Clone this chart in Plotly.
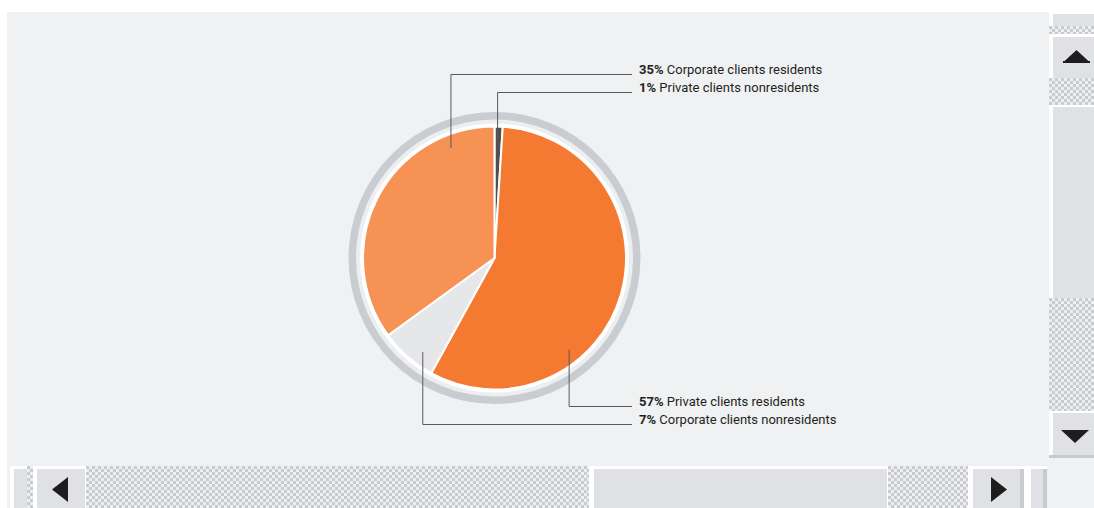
import base64
import math
import struct
import zlib

import plotly.graph_objects as go

# ---- data -------------------------------------------------------------
segments = [
    "Private clients nonresidents",
    "Private clients residents",
    "Corporate clients nonresidents",
    "Corporate clients residents",
]
shares = [1, 57, 7, 35]
slice_colors = ["#505052", "#f37a30", "#e6e7e9", "#f69254"]

# label placement: (segment index, row baseline y, anchor angle in degrees)
label_rows = [
    (3, 74, 338.4),
    (0, 92, 1.5),
    (1, 406, 140.9),
    (2, 424, 217.3),
]

# ---- geometry helpers (pixel -> paper) ---------------------------------
W, H = 1094, 508


def px(x):
    return x / W


def py(y):
    return 1 - y / H


def rect(x0, y0, x1, y1, color, layer="below"):
    return dict(type="rect", xref="paper", yref="paper",
                x0=px(x0), x1=px(x1), y0=py(y1), y1=py(y0),
                fillcolor=color, line=dict(width=0), layer=layer)


def poly(points, color):
    d = "M " + " L ".join(f"{px(x)},{py(y)}" for x, y in points) + " Z"
    return dict(type="path", xref="paper", yref="paper", path=d,
                fillcolor=color, line=dict(width=0), layer="below")


def circle(cx, cy, r, color):
    return dict(type="circle", xref="paper", yref="paper",
                x0=px(cx - r), x1=px(cx + r), y0=py(cy + r), y1=py(cy - r),
                fillcolor=color, line=dict(width=0), layer="below")


def checker_png(w, h, cell, dark, light):
    """Small checkerboard PNG as a data URI (scrollbar track texture)."""
    def rgb(c):
        c = c.lstrip("#")
        return bytes(int(c[i:i + 2], 16) for i in (0, 2, 4))
    d, l = rgb(dark), rgb(light)
    raw = bytearray()
    for y in range(h):
        raw.append(0)
        for x in range(w):
            raw += l if ((x // cell) + (y // cell)) % 2 else d
    def chunk(tag, data):
        c = struct.pack(">I", len(data)) + tag + data
        return c + struct.pack(">I", zlib.crc32(tag + data) & 0xFFFFFFFF)
    png = b"\x89PNG\r\n\x1a\n"
    png += chunk(b"IHDR", struct.pack(">IIBBBBB", w, h, 8, 2, 0, 0, 0))
    png += chunk(b"IDAT", zlib.compress(bytes(raw), 9))
    png += chunk(b"IEND", b"")
    return "data:image/png;base64," + base64.b64encode(png).decode()


def track(x0, y0, x1, y1):
    w, h = int(x1 - x0), int(y1 - y0)
    return dict(source=checker_png(w, h, 3, "#c9cbcf", "#eceef0"),
                xref="paper", yref="paper", x=px(x0), y=py(y0),
                sizex=w / W, sizey=h / H, sizing="stretch",
                xanchor="left", yanchor="top", layer="above")


PANEL = "#f0f1f3"
BTN = "#e0e1e4"
EDGE = "#c8cacd"
ARROW = "#1e1c1d"

shapes = []
images = []

# panel background
shapes.append(rect(7, 12, 1049, 508, PANEL))
shapes.append(rect(1049, 458, 1094, 508, PANEL))

# vertical scrollbar
shapes += [
    rect(1049, 12, 1094, 458, "#ffffff"),
    rect(1053, 14, 1094, 26, BTN),
    rect(1053, 37, 1094, 78, BTN),
    rect(1053, 107, 1094, 298, BTN),
    rect(1053, 413, 1094, 455, BTN),
    rect(1049, 455, 1094, 458, EDGE),
    poly([(1063, 62.5), (1090, 62.5), (1076.5, 50)], ARROW),
    rect(1063, 61, 1090, 63, ARROW),
    poly([(1061, 430), (1089, 430), (1075, 443)], ARROW),
]
images += [
    track(1049, 26, 1094, 34),
    track(1049, 78, 1094, 105),
    track(1049, 298, 1094, 411),
]

# horizontal scrollbar
shapes += [
    rect(10, 466, 1047, 508, "#ffffff"),
    rect(14, 469, 27, 508, BTN),
    rect(37, 469, 85, 508, BTN),
    rect(594, 469, 887, 508, BTN),
    rect(973, 469, 1020, 508, BTN),
    rect(1020, 469, 1024, 508, EDGE),
    rect(1031, 469, 1043, 508, BTN),
    rect(1043, 469, 1047, 508, EDGE),
    poly([(68, 477), (68, 502), (52, 489.5)], ARROW),
    poly([(991, 477), (991, 502), (1007, 489.5)], ARROW),
]
images += [
    track(27, 466, 33, 508),
    track(86, 466, 589, 508),
    track(888, 466, 968, 508),
]

# ring around the pie
CX, CY, R = 494.5, 258, 131.5
shapes += [
    circle(CX, CY, 146, "#c9ccd0"),
    circle(CX, CY, 138.5, "#eceef0"),
    circle(CX, CY, 134.5, "#ffffff"),
]

# leader lines and labels
LINE_END = 632
TEXT_X = 637
annotations = []
for idx, base_y, ang in label_rows:
    r = 0.9 * R
    ax = CX + r * math.sin(math.radians(ang))
    ay = CY - r * math.cos(math.radians(ang))
    ly = base_y + 0.5
    shapes.append(dict(
        type="path", xref="paper", yref="paper",
        path=f"M {px(ax)},{py(ay)} L {px(ax)},{py(ly)} L {px(LINE_END)},{py(ly)}",
        line=dict(color="#59595b", width=1), layer="above"))
    annotations.append(dict(
        xref="paper", yref="paper", x=px(TEXT_X), y=py(base_y - 4.5),
        xanchor="left", yanchor="middle", showarrow=False,
        text=f"<b>{shares[idx]}%</b> {segments[idx]}",
        font=dict(family="Roboto, sans-serif", size=13, color="#231f20")))

fig = go.Figure(go.Pie(
    labels=segments,
    values=shares,
    sort=False,
    direction="clockwise",
    rotation=0,
    marker=dict(colors=slice_colors, line=dict(color="#ffffff", width=2)),
    textinfo="none",
    hoverinfo="label+percent",
    domain=dict(x=[px(CX - R), px(CX + R)], y=[py(CY + R), py(CY - R)]),
))

fig.update_layout(
    width=W, height=H,
    margin=dict(l=0, r=0, t=0, b=0),
    paper_bgcolor="#ffffff",
    plot_bgcolor="#ffffff",
    showlegend=False,
    shapes=shapes,
    images=images,
    annotations=annotations,
)

fig.write_html("out.html")
